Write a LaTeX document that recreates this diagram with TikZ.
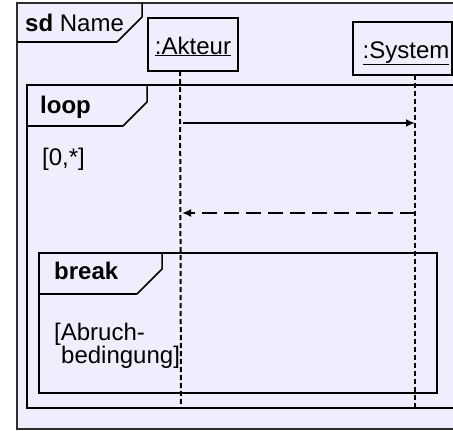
\documentclass[tikz,border=0pt]{standalone}
\usepackage{fontspec}
\setmainfont{Liberation Sans}
\usetikzlibrary{arrows.meta}
\definecolor{diagfill}{RGB}{240,238,254}
\definecolor{diagline}{RGB}{45,45,45}
\begin{document}
\begin{tikzpicture}[x=1pt,y=-1pt,
  txt/.style={inner sep=0pt,anchor=base west,font=\fontsize{24}{24}\selectfont},
  ctxt/.style={txt,anchor=base},
  frameedge/.style={draw=diagline,line width=1.6pt},
  tabedge/.style={draw=black,line width=1.5pt},
  tabbase/.style={draw=black,line width=2.6pt},
  objbox/.style={draw=black,line width=1.5pt,inner sep=0pt},
  lifeline/.style={draw=black,line width=2pt,dash pattern=on 5pt off 3pt},
  msg/.style={draw=black,line width=2pt,-{Latex[length=9pt,width=8pt]}},
  reply/.style={msg,dash pattern=on 15pt off 7pt}]
\useasboundingbox (0,0) rectangle (453,431);
\fill[white] (0,0) rectangle (453,431);

% sequence diagram frame "sd Name"
\draw[frameedge,fill=diagfill] (17,3) rectangle (470,429);
\draw[tabedge] (117,42) -- (142,17) -- (142,3);
\draw[tabbase] (17,42) -- (117,42);
\node[txt] (sdlabel) at (25,31) {\textbf{sd} Name};

% lifeline heads
\node[objbox,minimum width=90pt,minimum height=53pt] (akteur) at (193,44.5) {};
\node[ctxt] (akteurlabel) at (193,54) {\underline{:Akteur}};
\node[objbox,minimum width=99pt,minimum height=53pt] (system) at (402.5,48.5) {};
\node[ctxt] (systemlabel) at (406,58) {\underline{:System}};

% loop fragment
\draw[line width=2pt] (27,85) rectangle (470,408);
\draw[tabedge] (123,126) -- (147,102) -- (147,85);
\draw[tabbase] (27,126) -- (123,126);
\node[txt] (looplabel) at (40,113) {\textbf{loop}};
\node[txt] (loopguard) at (42,165) {[0,*]};

% break fragment
\draw[line width=1.7pt] (39,253) rectangle (437,393);
\draw[tabedge] (137,294) -- (162,269) -- (162,253);
\draw[tabbase] (39,294) -- (137,294);
\node[txt] (breaklabel) at (54,279) {\textbf{break}};
\node[txt] (breakguardA) at (54,340) {[Abruch-};
\node[txt] (breakguardB) at (61,363) {bedingung]};

% lifelines
\coordinate (akTop) at (180,71);
\coordinate (akBot) at (181,408);
\coordinate (syTop) at (415,75);
\coordinate (syBot) at (415,408);
\draw[lifeline] (akTop) -- (akBot);
\draw[lifeline] (syTop) -- (syBot);

% messages
\coordinate (callFrom) at (183,123);
\coordinate (callTo) at (415,123);
\coordinate (replyFrom) at (415,213);
\coordinate (replyTo) at (182,213);
\draw[msg] (callFrom) -- (callTo);
\draw[reply] (replyFrom) -- (replyTo);
\end{tikzpicture}
\end{document}
